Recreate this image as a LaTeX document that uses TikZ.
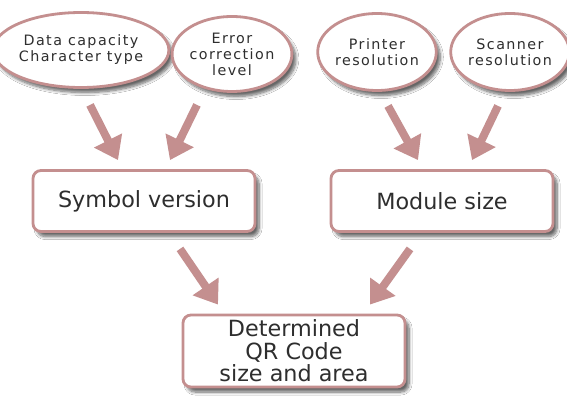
\documentclass[tikz,border=0pt]{standalone}
\usepackage{fontspec}
\setmainfont{DejaVu Sans}
\newfontfamily\ellfont[LetterSpace=10]{DejaVu Sans}
\usetikzlibrary{shapes.geometric,arrows.meta,calc,shadows.blur}
\definecolor{rose}{HTML}{C48F8F}
\definecolor{txt}{HTML}{2E2E2E}
\tikzset{
  sh/.style={blur shadow={shadow xshift=4pt,shadow yshift=-5pt,shadow blur steps=8,shadow opacity=60,shadow blur radius=3pt}},
  ell/.style={ellipse,draw=rose,line width=2.8pt,fill=white,inner sep=0pt,sh,
    font=\ellfont\fontsize{14.3}{16}\selectfont,text=txt,align=center},
  boxn/.style={rounded corners=8pt,draw=rose,line width=2.8pt,fill=white,sh,
    minimum width=222pt,inner sep=0pt,
    font=\fontsize{22.3}{22.5}\selectfont,text=txt,align=center},
  bigarrow/.style={draw=rose,line width=8pt,-{Triangle[width=30pt,length=22pt]}}
}
\begin{document}
\begin{tikzpicture}[x=1pt,y=-1pt]
\useasboundingbox[fill=white] (0,0) rectangle (567,398);
\node[ell,minimum width=142pt,minimum height=75pt] (e1) at (81,50) {Data capacity\\Character type};
\node[ell,minimum width=115pt,minimum height=75pt] (e2) at (232,54) {Error\\correction\\level};
\node[ell,minimum width=113pt,minimum height=77pt] (e3) at (377,52) {Printer\\resolution};
\node[ell,minimum width=110pt,minimum height=77pt] (e4) at (510,52) {Scanner\\resolution};
\node[boxn,minimum height=61pt] (sv) at (144,201) {Symbol version};
\node[boxn,minimum height=61pt] (ms) at (442,201) {Module size};
\node[boxn,minimum height=72pt,text depth=0pt] (qr) at (294,351) {Determined\\QR Code\\size and area};
\draw[bigarrow] ($(e1.south)+(9,16)$) -- ($(sv.north)+(-26,-9)$);
\draw[bigarrow] ($(e2.south)+(-35,12)$) -- ($(sv.north)+(26,-9)$);
\draw[bigarrow] ($(e3.south)+(11,14)$) -- ($(ms.north)+(-24,-9)$);
\draw[bigarrow] ($(e4.south)+(-12,14)$) -- ($(ms.north)+(30,-9)$);
\draw[bigarrow] ($(sv.south)+(36,16)$) -- ($(qr.north)+(-76,-9)$);
\draw[bigarrow] ($(ms.south)+(-32,16)$) -- ($(qr.north)+(76,-9)$);
\end{tikzpicture}
\end{document}
